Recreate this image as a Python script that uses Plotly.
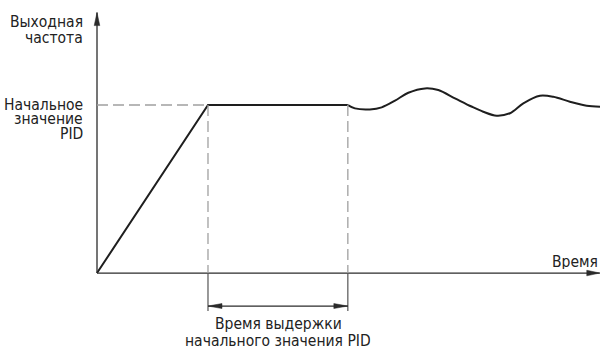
import plotly.graph_objects as go

# ---- data (arbitrary units: time on x, output frequency on y) ----
T_RAMP = 1.0          # time at which the PID initial value is reached
T_HOLD = 2.26         # end of the hold time of the PID initial value
PID_INIT = 1.0        # PID initial value (output frequency)
T_END = 4.53          # end of the time axis
F_TOP = 1.55          # top of the frequency axis

ramp_t = [0.0, T_RAMP, T_HOLD]
ramp_f = [0.0, PID_INIT, PID_INIT]

wave_t = [2.261, 2.324, 2.459, 2.565, 2.685, 2.805, 2.955, 3.075, 3.225, 3.374,
          3.480, 3.601, 3.721, 3.841, 3.991, 4.111, 4.261, 4.412, 4.532]
wave_f = [1.000, 0.980, 0.974, 0.986, 1.026, 1.073, 1.099, 1.089, 1.040, 0.991,
          0.960, 0.936, 0.951, 1.010, 1.055, 1.049, 1.020, 0.996, 0.990]

y_label = ["Выходная", "частота"]
pid_label = ["Начальное", "значение", "PID"]
x_label = "Время"
hold_label = ["Время выдержки", "начального значения PID"]

W, H = 602, 350
FONT = "DejaVu Sans Condensed, DejaVu Sans, sans-serif"
DARK = "#1e1e1e"
AXIS = "#2b2b2b"
DASH = "#a0a0a0"

fig = go.Figure()
fig.add_trace(go.Scatter(x=ramp_t, y=ramp_f, mode="lines",
                         line=dict(color=DARK, width=2), hoverinfo="skip"))
fig.add_trace(go.Scatter(x=wave_t, y=wave_f, mode="lines",
                         line=dict(color=DARK, width=2, shape="spline", smoothing=0.9),
                         hoverinfo="skip"))

shapes = []
# axes
shapes.append(dict(type="line", x0=0, y0=0, x1=T_END, y1=0, line=dict(color=AXIS, width=1.3)))
shapes.append(dict(type="line", x0=0, y0=0, x1=0, y1=F_TOP, line=dict(color=AXIS, width=1.3)))
# axis arrowheads (pixel-sized, anchored at the axis ends)
shapes.append(dict(type="path", xsizemode="pixel", ysizemode="pixel",
                   xanchor=0, yanchor=F_TOP, path="M0,0 L-2.8,-13 L2.8,-13 Z",
                   fillcolor=AXIS, line=dict(color=AXIS, width=0.5)))
shapes.append(dict(type="path", xsizemode="pixel", ysizemode="pixel",
                   xanchor=T_END, yanchor=0, path="M0,0 L-13,2.8 L-13,-2.8 Z",
                   fillcolor=AXIS, line=dict(color=AXIS, width=0.5)))
# dashed guides
dash = "11px,5px"
shapes.append(dict(type="line", x0=0, y0=PID_INIT, x1=T_RAMP, y1=PID_INIT,
                   line=dict(color=DASH, width=1.3, dash=dash)))
for t in (T_RAMP, T_HOLD):
    shapes.append(dict(type="line", x0=t, y0=PID_INIT, x1=t, y1=0,
                       line=dict(color=DASH, width=1.3, dash=dash)))
    # solid extension below the time axis
    shapes.append(dict(type="line", xref="x", yref="y", x0=t, x1=t, ysizemode="pixel",
                       yanchor=0, y0=0, y1=-38, line=dict(color="#555555", width=1.2)))
# double-headed dimension arrow
shapes.append(dict(type="line", ysizemode="pixel", yanchor=0, x0=T_RAMP, x1=T_HOLD,
                   y0=-33, y1=-33, line=dict(color=AXIS, width=1.3)))
shapes.append(dict(type="path", xsizemode="pixel", ysizemode="pixel",
                   xanchor=T_RAMP, yanchor=0, path="M0,-33 L14,-30.5 L14,-35.5 Z",
                   fillcolor=AXIS, line=dict(color=AXIS, width=0.5)))
shapes.append(dict(type="path", xsizemode="pixel", ysizemode="pixel",
                   xanchor=T_HOLD, yanchor=0, path="M0,-33 L-14,-30.5 L-14,-35.5 Z",
                   fillcolor=AXIS, line=dict(color=AXIS, width=0.5)))

def px(x):
    return x / W

def py(y):
    return 1 - y / H

ann = []
def text(s, x, y, anchor, h=15):
    ann.append(dict(text=s, x=px(x), y=py(y), xref="paper", yref="paper",
                    xanchor=anchor, yanchor="middle", showarrow=False,
                    height=h, borderpad=0, valign="middle",
                    font=dict(family=FONT, size=15.5, color="#222222")))

text(y_label[0], 84, 22.5, "right", 16)
text(y_label[1], 84, 38.5, "right", 16)
text(pid_label[0], 84, 105, "right", 14.5)
text(pid_label[1], 84, 119.5, "right", 14.5)
text(pid_label[2], 84, 134.5, "right", 14.5)
text(x_label, 599, 261.5, "right")
text(hold_label[0], 278, 324.5, "center", 16.5)
text(hold_label[1], 278, 341, "center", 16.5)

fig.update_layout(
    width=W, height=H,
    margin=dict(l=0, r=0, t=0, b=0),
    paper_bgcolor="white", plot_bgcolor="white",
    showlegend=False,
    xaxis=dict(range=[-0.874, 4.550], visible=False, fixedrange=True),
    yaxis=dict(range=[-0.458, 1.625], visible=False, fixedrange=True),
    shapes=shapes, annotations=ann,
)

fig.write_html("out.html", config=dict(displayModeBar=False),
               post_script="document.body.style.margin='0';document.body.style.overflow='hidden';")
